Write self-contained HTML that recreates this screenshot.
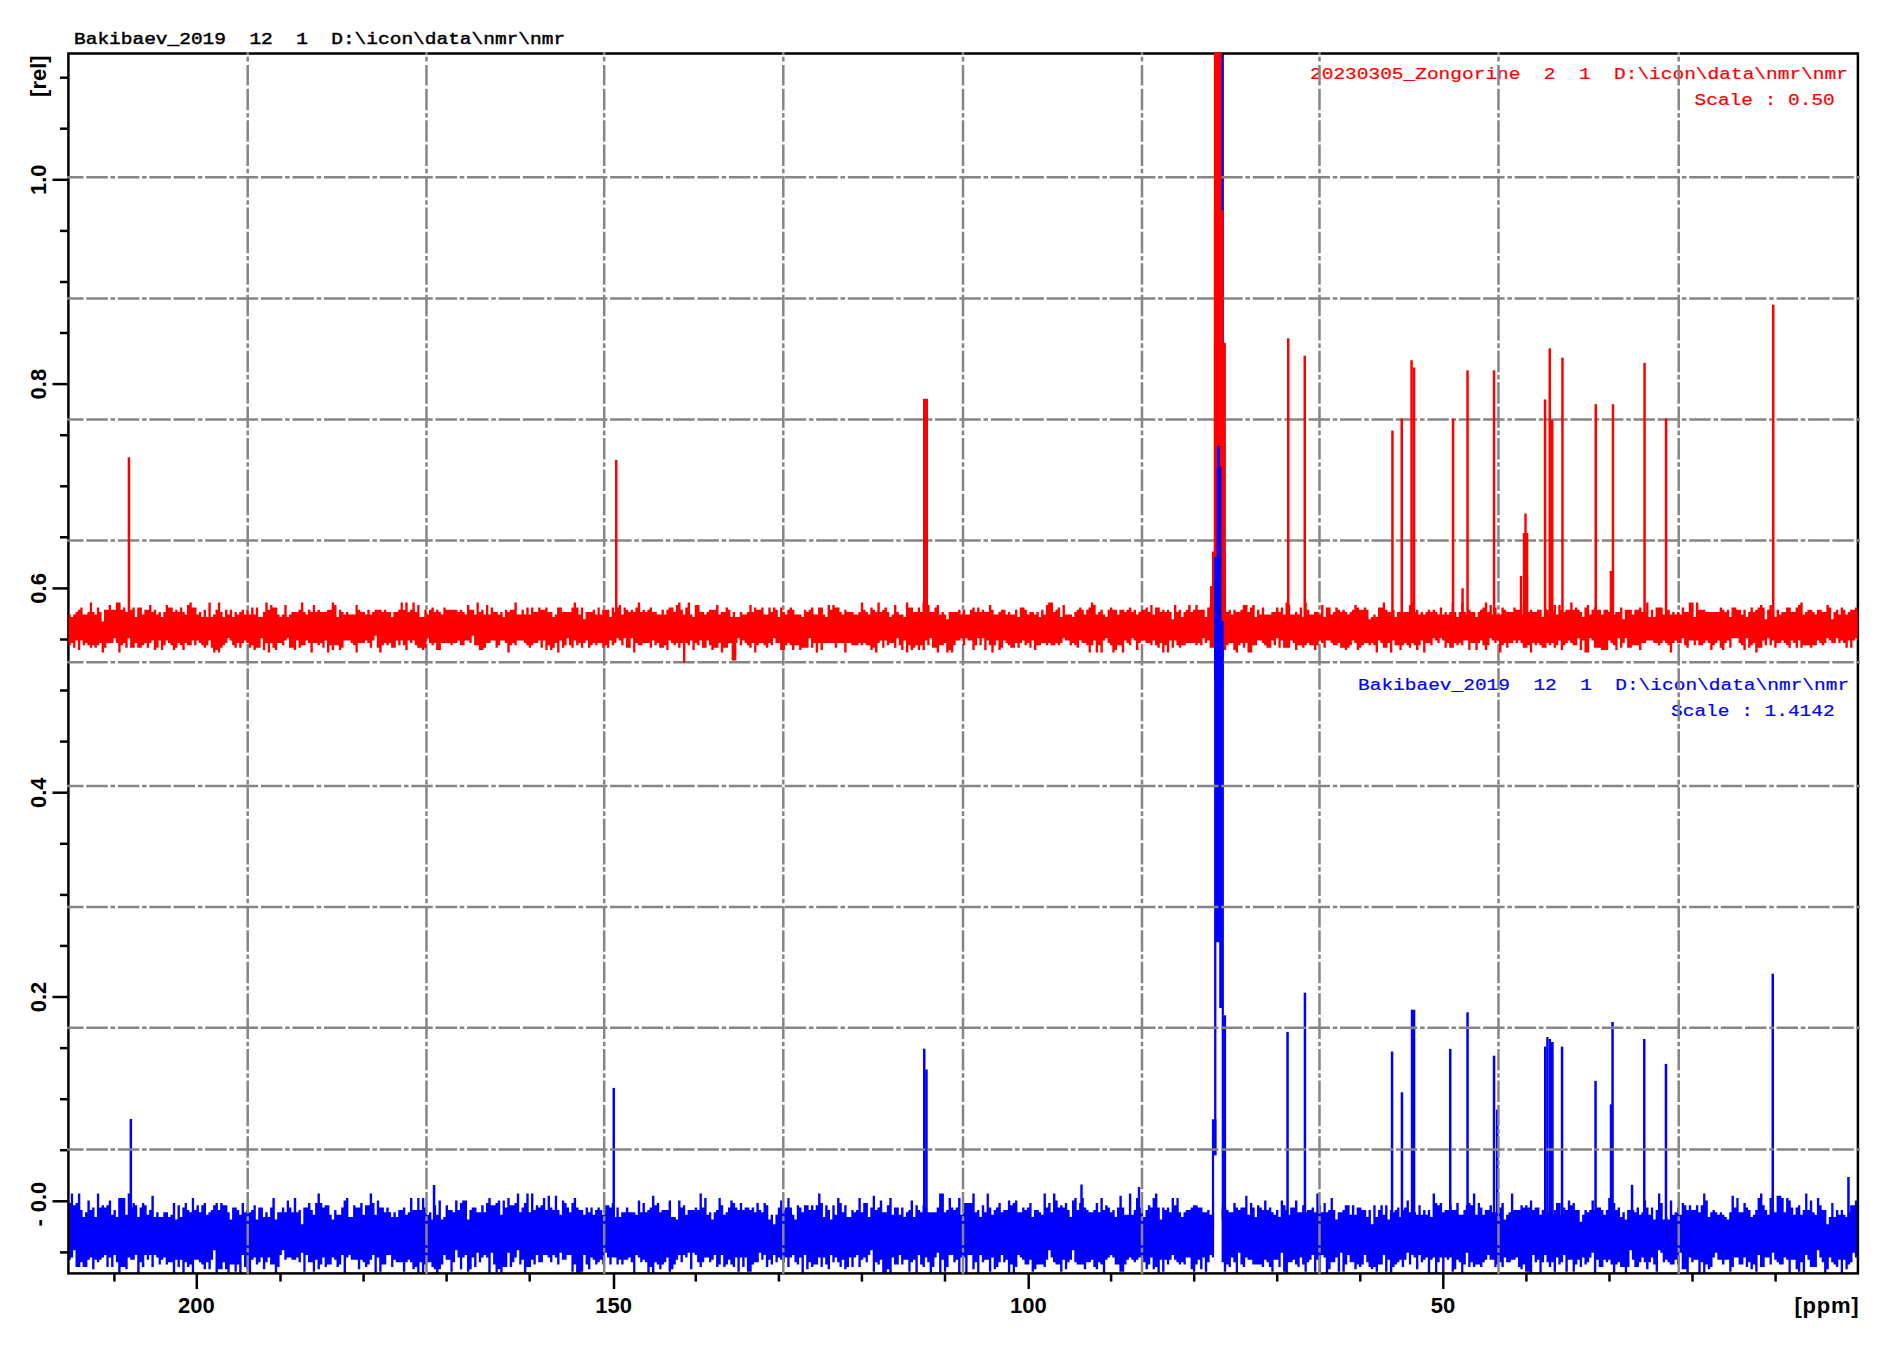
<!DOCTYPE html>
<html><head><meta charset="utf-8"><title>NMR spectrum</title>
<style>html,body{margin:0;padding:0;background:#fff;width:1898px;height:1354px;overflow:hidden}svg{display:block}</style>
</head><body>
<svg width="1898" height="1354" viewBox="0 0 1898 1354"><defs><clipPath id="pc"><rect x="68.4" y="53.5" width="1789.5" height="1219.9"/></clipPath></defs><g font-family="Liberation Mono" font-weight="normal" font-size="19.5" stroke-width="0.55"><text transform="translate(74 44.0) scale(1 0.86)" fill="#000" stroke="#000" xml:space="preserve">Bakibaev_2019  12  1  D:\icon\data\nmr\nmr</text><text transform="translate(1310 78.6) scale(1 0.86)" fill="#ff0000" stroke="#ff0000" stroke-width="0.25" xml:space="preserve">20230305_Zongorine  2  1  D:\icon\data\nmr\nmr</text><text transform="translate(1694.5 104.6) scale(1 0.86)" fill="#ff0000" stroke="#ff0000" stroke-width="0.25" xml:space="preserve">Scale : 0.50</text><text transform="translate(1358 689.6) scale(1 0.86)" fill="#0000ff" stroke="#0000ff" stroke-width="0.25" xml:space="preserve">Bakibaev_2019  12  1  D:\icon\data\nmr\nmr</text><text transform="translate(1671 716.1) scale(1 0.86)" fill="#0000ff" stroke="#0000ff" stroke-width="0.25" xml:space="preserve">Scale : 1.4142</text></g><g clip-path="url(#pc)" fill="#0000ff"><path d="M68.4 1202.9H70.8V1193.4H73.1V1205.2H75.5V1202.9H77.9V1193.4H80.3V1210H82.6V1217.1H85V1212.3H87.4V1200.5H89.8V1210H92.1V1207.6H94.5V1217.1H96.9V1193.4H99.2V1207.6H101.6V1205.2H104V1207.6H106.4V1205.2H108.7V1200.5H111.1V1214.7H113.5V1210H115.9V1217.1H118.2V1198.1H120.6V1198.1H123V1198.1H125.3V1214.7H127.7V1193.4H130.1V1207.6H132.5V1202.9H134.8V1205.2H137.2V1217.1H139.6V1207.6H141.9V1202.9H144.3V1205.2H146.7V1214.7H149.1V1210H151.4V1195.7H153.8V1217.1H156.2V1212.3H158.6V1217.1H160.9V1217.1H163.3V1212.3H165.7V1212.3H168V1217.1H170.4V1214.7H172.8V1202.9H175.2V1219.5H177.5V1205.2H179.9V1217.1H182.3V1207.6H184.7V1202.9H187V1210H189.4V1212.3H191.8V1198.1H194.1V1210H196.5V1205.2H198.9V1212.3H201.3V1205.2H203.6V1202.9H206V1214.7H208.4V1212.3H210.8V1210H213.1V1205.2H215.5V1202.9H217.9V1210H220.2V1202.9H222.6V1205.2H225V1205.2H227.4V1212.3H229.7V1219.5H232.1V1207.6H234.5V1207.6H236.8V1210H239.2V1214.7H241.6V1202.9H244V1212.3H246.3V1210H248.7V1212.3H251.1V1210H253.5V1205.2H255.8V1219.5H258.2V1207.6H260.6V1207.6H262.9V1217.1H265.3V1212.3H267.7V1217.1H270.1V1207.6H272.4V1198.1H274.8V1219.5H277.2V1212.3H279.6V1212.3H281.9V1207.6H284.3V1212.3H286.7V1200.5H289V1207.6H291.4V1212.3H293.8V1198.1H296.2V1212.3H298.5V1210H300.9V1224.2H303.3V1207.6H305.6V1207.6H308V1202.9H310.4V1210H312.8V1214.7H315.1V1202.9H317.5V1193.4H319.9V1202.9H322.3V1207.6H324.6V1205.2H327V1205.2H329.4V1214.7H331.7V1219.5H334.1V1210H336.5V1214.7H338.9V1214.7H341.2V1207.6H343.6V1200.5H346V1198.1H348.4V1217.1H350.7V1217.1H353.1V1205.2H355.5V1207.6H357.8V1207.6H360.2V1202.9H362.6V1214.7H365V1205.2H367.3V1205.2H369.7V1193.4H372.1V1202.9H374.5V1214.7H376.8V1200.5H379.2V1207.6H381.6V1207.6H383.9V1212.3H386.3V1207.6H388.7V1212.3H391.1V1217.1H393.4V1212.3H395.8V1217.1H398.2V1210H400.6V1210H402.9V1207.6H405.3V1214.7H407.7V1212.3H410V1198.1H412.4V1210H414.8V1210H417.2V1198.1H419.5V1210H421.9V1198.1H424.3V1207.6H426.6V1214.7H429V1212.3H431.4V1219.5H433.8V1205.2H436.1V1214.7H438.5V1200.5H440.9V1219.5H443.3V1217.1H445.6V1205.2H448V1210H450.4V1210H452.7V1212.3H455.1V1200.5H457.5V1210H459.9V1202.9H462.2V1200.5H464.6V1200.5H467V1219.5H469.4V1210H471.7V1207.6H474.1V1207.6H476.5V1212.3H478.8V1212.3H481.2V1205.2H483.6V1212.3H486V1202.9H488.3V1198.1H490.7V1205.2H493.1V1205.2H495.5V1202.9H497.8V1200.5H500.2V1214.7H502.6V1200.5H504.9V1207.6H507.3V1198.1H509.7V1205.2H512.1V1205.2H514.4V1202.9H516.8V1193.4H519.2V1212.3H521.5V1207.6H523.9V1202.9H526.3V1193.4H528.7V1212.3H531V1193.4H533.4V1210H535.8V1205.2H538.2V1207.6H540.5V1205.2H542.9V1198.1H545.3V1210H547.6V1195.7H550V1207.6H552.4V1210H554.8V1195.7H557.1V1210H559.5V1214.7H561.9V1200.5H564.3V1202.9H566.6V1207.6H569V1212.3H571.4V1202.9H573.7V1198.1H576.1V1207.6H578.5V1210H580.9V1210H583.2V1214.7H585.6V1207.6H588V1212.3H590.4V1207.6H592.7V1214.7H595.1V1210H597.5V1207.6H599.8V1210H602.2V1214.7H604.6V1205.2H607V1205.2H609.3V1207.6H611.7V1202.9H614.1V1217.1H616.4V1207.6H618.8V1217.1H621.2V1212.3H623.6V1212.3H625.9V1207.6H628.3V1212.3H630.7V1212.3H633.1V1212.3H635.4V1214.7H637.8V1200.5H640.2V1212.3H642.5V1202.9H644.9V1212.3H647.3V1210H649.7V1207.6H652V1195.7H654.4V1205.2H656.8V1202.9H659.2V1212.3H661.5V1210H663.9V1210H666.3V1210H668.6V1200.5H671V1217.1H673.4V1217.1H675.8V1219.5H678.1V1200.5H680.5V1207.6H682.9V1205.2H685.2V1214.7H687.6V1210H690V1210H692.4V1210H694.7V1207.6H697.1V1210H699.5V1193.4H701.9V1207.6H704.2V1198.1H706.6V1214.7H709V1212.3H711.3V1219.5H713.7V1212.3H716.1V1210H718.5V1198.1H720.8V1205.2H723.2V1214.7H725.6V1212.3H728V1207.6H730.3V1200.5H732.7V1202.9H735.1V1207.6H737.4V1210H739.8V1202.9H742.2V1210H744.6V1207.6H746.9V1207.6H749.3V1210H751.7V1207.6H754.1V1212.3H756.4V1202.9H758.8V1210H761.2V1212.3H763.5V1202.9H765.9V1205.2H768.3V1219.5H770.7V1214.7H773V1224.2H775.4V1214.7H777.8V1207.6H780.1V1200.5H782.5V1210H784.9V1207.6H787.3V1198.1H789.6V1207.6H792V1214.7H794.4V1219.5H796.8V1205.2H799.1V1207.6H801.5V1212.3H803.9V1205.2H806.2V1205.2H808.6V1210H811V1205.2H813.4V1210H815.7V1205.2H818.1V1193.4H820.5V1202.9H822.9V1217.1H825.2V1205.2H827.6V1210H830V1219.5H832.3V1205.2H834.7V1214.7H837.1V1198.1H839.5V1202.9H841.8V1212.3H844.2V1205.2H846.6V1217.1H849V1217.1H851.3V1210H853.7V1212.3H856.1V1210H858.4V1198.1H860.8V1212.3H863.2V1202.9H865.6V1202.9H867.9V1217.1H870.3V1207.6H872.7V1195.7H875V1210H877.4V1207.6H879.8V1200.5H882.2V1212.3H884.5V1212.3H886.9V1205.2H889.3V1198.1H891.7V1214.7H894V1207.6H896.4V1207.6H898.8V1214.7H901.1V1207.6H903.5V1217.1H905.9V1212.3H908.3V1210H910.6V1200.5H913V1217.1H915.4V1205.2H917.8V1210H920.1V1212.3H922.5V1205.2H924.9V1207.6H927.2V1212.3H929.6V1212.3H932V1212.3H934.4V1212.3H936.7V1207.6H939.1V1193.4H941.5V1193.4H943.9V1212.3H946.2V1210H948.6V1198.1H951V1207.6H953.3V1210H955.7V1207.6H958.1V1198.1H960.5V1214.7H962.8V1202.9H965.2V1202.9H967.6V1202.9H970V1202.9H972.3V1193.4H974.7V1212.3H977.1V1210H979.4V1217.1H981.8V1205.2H984.2V1212.3H986.6V1193.4H988.9V1207.6H991.3V1214.7H993.7V1210H996V1207.6H998.4V1202.9H1000.8V1212.3H1003.2V1210H1005.5V1210H1007.9V1200.5H1010.3V1205.2H1012.7V1202.9H1015V1200.5H1017.4V1212.3H1019.8V1212.3H1022.1V1207.6H1024.5V1210H1026.9V1207.6H1029.3V1202.9H1031.6V1217.1H1034V1210H1036.4V1210H1038.8V1212.3H1041.1V1214.7H1043.5V1193.4H1045.9V1207.6H1048.2V1202.9H1050.6V1212.3H1053V1193.4H1055.4V1200.5H1057.7V1207.6H1060.1V1205.2H1062.5V1207.6H1064.9V1202.9H1067.2V1210H1069.6V1217.1H1072V1200.5H1074.3V1198.1H1076.7V1210H1079.1V1202.9H1081.5V1198.1H1083.8V1207.6H1086.2V1210H1088.6V1212.3H1090.9V1212.3H1093.3V1210H1095.7V1202.9H1098.1V1212.3H1100.4V1198.1H1102.8V1210H1105.2V1205.2H1107.6V1207.6H1109.9V1212.3H1112.3V1210H1114.7V1217.1H1117V1207.6H1119.4V1195.7H1121.8V1207.6H1124.2V1214.7H1126.5V1214.7H1128.9V1193.4H1131.3V1214.7H1133.7V1210H1136V1198.1H1138.4V1207.6H1140.8V1207.6H1143.1V1217.1H1145.5V1210H1147.9V1205.2H1150.3V1207.6H1152.6V1198.1H1155V1193.4H1157.4V1207.6H1159.8V1219.5H1162.1V1207.6H1164.5V1210H1166.9V1207.6H1169.2V1212.3H1171.6V1198.1H1174V1205.2H1176.4V1198.1H1178.7V1212.3H1181.1V1217.1H1183.5V1212.3H1185.8V1210H1188.2V1210H1190.6V1207.6H1193V1205.2H1195.3V1205.2H1197.7V1207.6H1200.1V1207.6H1202.5V1212.3H1204.8V1212.3H1207.2V1210H1209.6V1214.7H1211.9V1212.3H1214.3V1198.1H1216.7V1212.3H1219.1V1205.2H1221.4V1210H1223.8V1207.6H1226.2V1210H1228.6V1212.3H1230.9V1212.3H1233.3V1202.9H1235.7V1207.6H1238V1210H1240.4V1207.6H1242.8V1207.6H1245.2V1195.7H1247.5V1214.7H1249.9V1202.9H1252.3V1207.6H1254.7V1217.1H1257V1205.2H1259.4V1207.6H1261.8V1210H1264.1V1200.5H1266.5V1210H1268.9V1207.6H1271.3V1212.3H1273.6V1214.7H1276V1210H1278.4V1217.1H1280.7V1200.5H1283.1V1205.2H1285.5V1210H1287.9V1214.7H1290.2V1207.6H1292.6V1207.6H1295V1200.5H1297.4V1212.3H1299.7V1212.3H1302.1V1205.2H1304.5V1212.3H1306.8V1210H1309.2V1210H1311.6V1207.6H1314V1212.3H1316.3V1193.4H1318.7V1205.2H1321.1V1212.3H1323.5V1202.9H1325.8V1212.3H1328.2V1210H1330.6V1198.1H1332.9V1210H1335.3V1219.5H1337.7V1212.3H1340.1V1212.3H1342.4V1210H1344.8V1205.2H1347.2V1205.2H1349.6V1214.7H1351.9V1205.2H1354.3V1214.7H1356.7V1207.6H1359V1207.6H1361.4V1210H1363.8V1210H1366.2V1217.1H1368.5V1210H1370.9V1224.2H1373.3V1205.2H1375.6V1217.1H1378V1210H1380.4V1205.2H1382.8V1214.7H1385.1V1205.2H1387.5V1219.5H1389.9V1210H1392.3V1212.3H1394.6V1210H1397V1207.6H1399.4V1217.1H1401.7V1210H1404.1V1207.6H1406.5V1200.5H1408.9V1212.3H1411.2V1210H1413.6V1212.3H1416V1214.7H1418.4V1205.2H1420.7V1214.7H1423.1V1210H1425.5V1214.7H1427.8V1210H1430.2V1217.1H1432.6V1193.4H1435V1202.9H1437.3V1205.2H1439.7V1202.9H1442.1V1212.3H1444.5V1210H1446.8V1210H1449.2V1205.2H1451.6V1210H1453.9V1210H1456.3V1202.9H1458.7V1214.7H1461.1V1214.7H1463.4V1210H1465.8V1205.2H1468.2V1202.9H1470.5V1205.2H1472.9V1193.4H1475.3V1214.7H1477.7V1202.9H1480V1207.6H1482.4V1214.7H1484.8V1210H1487.2V1210H1489.5V1205.2H1491.9V1212.3H1494.3V1212.3H1496.6V1219.5H1499V1207.6H1501.4V1202.9H1503.8V1219.5H1506.1V1214.7H1508.5V1212.3H1510.9V1193.4H1513.3V1210H1515.6V1210H1518V1210H1520.4V1205.2H1522.7V1207.6H1525.1V1205.2H1527.5V1207.6H1529.9V1200.5H1532.2V1210H1534.6V1207.6H1537V1207.6H1539.4V1214.7H1541.7V1210H1544.1V1217.1H1546.5V1212.3H1548.8V1202.9H1551.2V1214.7H1553.6V1210H1556V1202.9H1558.3V1202.9H1560.7V1214.7H1563.1V1207.6H1565.4V1210H1567.8V1200.5H1570.2V1205.2H1572.6V1202.9H1574.9V1210H1577.3V1210H1579.7V1221.8H1582.1V1214.7H1584.4V1210H1586.8V1212.3H1589.2V1210H1591.5V1200.5H1593.9V1210H1596.3V1207.6H1598.7V1207.6H1601V1210H1603.4V1214.7H1605.8V1210H1608.2V1198.1H1610.5V1205.2H1612.9V1202.9H1615.3V1210H1617.6V1207.6H1620V1217.1H1622.4V1212.3H1624.8V1219.5H1627.1V1210H1629.5V1210H1631.9V1210H1634.3V1212.3H1636.6V1207.6H1639V1214.7H1641.4V1212.3H1643.7V1200.5H1646.1V1207.6H1648.5V1214.7H1650.9V1207.6H1653.2V1219.5H1655.6V1210H1658V1193.4H1660.3V1202.9H1662.7V1219.5H1665.1V1217.1H1667.5V1219.5H1669.8V1200.5H1672.2V1214.7H1674.6V1212.3H1677V1207.6H1679.3V1214.7H1681.7V1202.9H1684.1V1205.2H1686.4V1210H1688.8V1205.2H1691.2V1210H1693.6V1210H1695.9V1205.2H1698.3V1212.3H1700.7V1205.2H1703.1V1193.4H1705.4V1200.5H1707.8V1217.1H1710.2V1212.3H1712.5V1210H1714.9V1212.3H1717.3V1214.7H1719.7V1212.3H1722V1214.7H1724.4V1217.1H1726.8V1219.5H1729.2V1212.3H1731.5V1195.7H1733.9V1207.6H1736.3V1198.1H1738.6V1212.3H1741V1212.3H1743.4V1202.9H1745.8V1207.6H1748.1V1210H1750.5V1217.1H1752.9V1214.7H1755.2V1210H1757.6V1198.1H1760V1193.4H1762.4V1205.2H1764.7V1210H1767.1V1214.7H1769.5V1198.1H1771.9V1210H1774.2V1212.3H1776.6V1195.7H1779V1195.7H1781.3V1198.1H1783.7V1212.3H1786.1V1198.1H1788.5V1200.5H1790.8V1207.6H1793.2V1214.7H1795.6V1207.6H1798V1205.2H1800.3V1214.7H1802.7V1210H1805.1V1193.4H1807.4V1210H1809.8V1200.5H1812.2V1212.3H1814.6V1214.7H1816.9V1198.1H1819.3V1205.2H1821.7V1210H1824.1V1210H1826.4V1224.2H1828.8V1217.1H1831.2V1202.9H1833.5V1217.1H1835.9V1210H1838.3V1214.7H1840.7V1210H1843V1214.7H1845.4V1217.1H1847.8V1212.3H1850.1V1205.2H1852.5V1205.2H1854.9V1200.5H1857.3V1202.9H1857.9V1262.2H1857.3V1257.4H1854.9V1252.7H1852.5V1262.2H1850.1V1264.5H1847.8V1269.3H1845.4V1259.8H1843V1274H1840.7V1259.8H1838.3V1266.9H1835.9V1264.5H1833.5V1262.2H1831.2V1257.4H1828.8V1269.3H1826.4V1276.4H1824.1V1262.2H1821.7V1257.4H1819.3V1250.3H1816.9V1266.9H1814.6V1266.9H1812.2V1266.9H1809.8V1259.8H1807.4V1255.1H1805.1V1276.4H1802.7V1262.2H1800.3V1271.7H1798V1269.3H1795.6V1259.8H1793.2V1259.8H1790.8V1276.4H1788.5V1259.8H1786.1V1257.4H1783.7V1264.5H1781.3V1264.5H1779V1262.2H1776.6V1259.8H1774.2V1252.7H1771.9V1264.5H1769.5V1257.4H1767.1V1257.4H1764.7V1266.9H1762.4V1266.9H1760V1255.1H1757.6V1271.7H1755.2V1264.5H1752.9V1269.3H1750.5V1262.2H1748.1V1266.9H1745.8V1257.4H1743.4V1264.5H1741V1264.5H1738.6V1257.4H1736.3V1257.4H1733.9V1266.9H1731.5V1271.7H1729.2V1259.8H1726.8V1259.8H1724.4V1264.5H1722V1259.8H1719.7V1259.8H1717.3V1252.7H1714.9V1257.4H1712.5V1266.9H1710.2V1269.3H1707.8V1264.5H1705.4V1276.4H1703.1V1262.2H1700.7V1276.4H1698.3V1259.8H1695.9V1259.8H1693.6V1262.2H1691.2V1257.4H1688.8V1276.4H1686.4V1269.3H1684.1V1269.3H1681.7V1252.7H1679.3V1264.5H1677V1259.8H1674.6V1264.5H1672.2V1264.5H1669.8V1262.2H1667.5V1259.8H1665.1V1262.2H1662.7V1252.7H1660.3V1250.3H1658V1271.7H1655.6V1264.5H1653.2V1257.4H1650.9V1262.2H1648.5V1269.3H1646.1V1262.2H1643.7V1257.4H1641.4V1262.2H1639V1266.9H1636.6V1266.9H1634.3V1259.8H1631.9V1250.3H1629.5V1266.9H1627.1V1276.4H1624.8V1266.9H1622.4V1266.9H1620V1262.2H1617.6V1264.5H1615.3V1274H1612.9V1264.5H1610.5V1259.8H1608.2V1262.2H1605.8V1259.8H1603.4V1266.9H1601V1266.9H1598.7V1259.8H1596.3V1276.4H1593.9V1252.7H1591.5V1257.4H1589.2V1262.2H1586.8V1264.5H1584.4V1257.4H1582.1V1266.9H1579.7V1259.8H1577.3V1264.5H1574.9V1271.7H1572.6V1259.8H1570.2V1259.8H1567.8V1271.7H1565.4V1255.1H1563.1V1262.2H1560.7V1264.5H1558.3V1257.4H1556V1271.7H1553.6V1262.2H1551.2V1266.9H1548.8V1262.2H1546.5V1255.1H1544.1V1262.2H1541.7V1276.4H1539.4V1259.8H1537V1262.2H1534.6V1255.1H1532.2V1274H1529.9V1271.7H1527.5V1271.7H1525.1V1264.5H1522.7V1269.3H1520.4V1266.9H1518V1257.4H1515.6V1259.8H1513.3V1259.8H1510.9V1262.2H1508.5V1262.2H1506.1V1257.4H1503.8V1266.9H1501.4V1262.2H1499V1264.5H1496.6V1266.9H1494.3V1259.8H1491.9V1259.8H1489.5V1255.1H1487.2V1259.8H1484.8V1262.2H1482.4V1266.9H1480V1264.5H1477.7V1264.5H1475.3V1266.9H1472.9V1262.2H1470.5V1266.9H1468.2V1252.7H1465.8V1264.5H1463.4V1276.4H1461.1V1262.2H1458.7V1259.8H1456.3V1269.3H1453.9V1271.7H1451.6V1257.4H1449.2V1259.8H1446.8V1257.4H1444.5V1274H1442.1V1257.4H1439.7V1262.2H1437.3V1276.4H1435V1257.4H1432.6V1259.8H1430.2V1274H1427.8V1257.4H1425.5V1259.8H1423.1V1262.2H1420.7V1255.1H1418.4V1269.3H1416V1257.4H1413.6V1255.1H1411.2V1264.5H1408.9V1252.7H1406.5V1259.8H1404.1V1266.9H1401.7V1259.8H1399.4V1262.2H1397V1264.5H1394.6V1266.9H1392.3V1276.4H1389.9V1259.8H1387.5V1271.7H1385.1V1255.1H1382.8V1264.5H1380.4V1264.5H1378V1271.7H1375.6V1266.9H1373.3V1269.3H1370.9V1266.9H1368.5V1262.2H1366.2V1255.1H1363.8V1264.5H1361.4V1266.9H1359V1264.5H1356.7V1269.3H1354.3V1262.2H1351.9V1262.2H1349.6V1255.1H1347.2V1264.5H1344.8V1271.7H1342.4V1252.7H1340.1V1271.7H1337.7V1257.4H1335.3V1262.2H1332.9V1262.2H1330.6V1269.3H1328.2V1276.4H1325.8V1257.4H1323.5V1255.1H1321.1V1271.7H1318.7V1259.8H1316.3V1271.7H1314V1255.1H1311.6V1259.8H1309.2V1262.2H1306.8V1271.7H1304.5V1264.5H1302.1V1257.4H1299.7V1266.9H1297.4V1264.5H1295V1259.8H1292.6V1262.2H1290.2V1262.2H1287.9V1274H1285.5V1271.7H1283.1V1252.7H1280.7V1266.9H1278.4V1259.8H1276V1259.8H1273.6V1271.7H1271.3V1266.9H1268.9V1262.2H1266.5V1259.8H1264.1V1266.9H1261.8V1264.5H1259.4V1264.5H1257V1264.5H1254.7V1264.5H1252.3V1259.8H1249.9V1259.8H1247.5V1257.4H1245.2V1266.9H1242.8V1264.5H1240.4V1252.7H1238V1274H1235.7V1262.2H1233.3V1257.4H1230.9V1266.9H1228.6V1264.5H1226.2V1271.7H1223.8V1262.2H1221.4V1264.5H1219.1V1259.8H1216.7V1266.9H1214.3V1257.4H1211.9V1255.1H1209.6V1262.2H1207.2V1271.7H1204.8V1257.4H1202.5V1269.3H1200.1V1259.8H1197.7V1264.5H1195.3V1271.7H1193V1269.3H1190.6V1257.4H1188.2V1257.4H1185.8V1264.5H1183.5V1262.2H1181.1V1264.5H1178.7V1262.2H1176.4V1259.8H1174V1255.1H1171.6V1259.8H1169.2V1264.5H1166.9V1259.8H1164.5V1271.7H1162.1V1259.8H1159.8V1274H1157.4V1266.9H1155V1269.3H1152.6V1257.4H1150.3V1264.5H1147.9V1269.3H1145.5V1262.2H1143.1V1257.4H1140.8V1257.4H1138.4V1259.8H1136V1262.2H1133.7V1259.8H1131.3V1257.4H1128.9V1259.8H1126.5V1264.5H1124.2V1271.7H1121.8V1271.7H1119.4V1264.5H1117V1264.5H1114.7V1257.4H1112.3V1255.1H1109.9V1257.4H1107.6V1259.8H1105.2V1276.4H1102.8V1264.5H1100.4V1262.2H1098.1V1269.3H1095.7V1266.9H1093.3V1259.8H1090.9V1262.2H1088.6V1262.2H1086.2V1269.3H1083.8V1264.5H1081.5V1264.5H1079.1V1264.5H1076.7V1262.2H1074.3V1250.3H1072V1259.8H1069.6V1262.2H1067.2V1269.3H1064.9V1259.8H1062.5V1271.7H1060.1V1264.5H1057.7V1264.5H1055.4V1262.2H1053V1257.4H1050.6V1250.3H1048.2V1259.8H1045.9V1266.9H1043.5V1264.5H1041.1V1264.5H1038.8V1264.5H1036.4V1269.3H1034V1271.7H1031.6V1259.8H1029.3V1264.5H1026.9V1264.5H1024.5V1259.8H1022.1V1257.4H1019.8V1255.1H1017.4V1266.9H1015V1276.4H1012.7V1264.5H1010.3V1274H1007.9V1259.8H1005.5V1262.2H1003.2V1255.1H1000.8V1262.2H998.4V1266.9H996V1269.3H993.7V1257.4H991.3V1271.7H988.9V1259.8H986.6V1259.8H984.2V1262.2H981.8V1255.1H979.4V1276.4H977.1V1262.2H974.7V1269.3H972.3V1255.1H970V1255.1H967.6V1276.4H965.2V1257.4H962.8V1257.4H960.5V1274H958.1V1259.8H955.7V1262.2H953.3V1255.1H951V1255.1H948.6V1266.9H946.2V1271.7H943.9V1259.8H941.5V1274H939.1V1252.7H936.7V1257.4H934.4V1266.9H932V1276.4H929.6V1262.2H927.2V1257.4H924.9V1266.9H922.5V1264.5H920.1V1255.1H917.8V1276.4H915.4V1259.8H913V1262.2H910.6V1271.7H908.3V1259.8H905.9V1259.8H903.5V1264.5H901.1V1255.1H898.8V1264.5H896.4V1264.5H894V1257.4H891.7V1274H889.3V1269.3H886.9V1274H884.5V1274H882.2V1259.8H879.8V1264.5H877.4V1262.2H875V1271.7H872.7V1250.3H870.3V1255.1H867.9V1262.2H865.6V1257.4H863.2V1259.8H860.8V1266.9H858.4V1255.1H856.1V1257.4H853.7V1266.9H851.3V1257.4H849V1266.9H846.6V1269.3H844.2V1259.8H841.8V1266.9H839.5V1262.2H837.1V1257.4H834.7V1262.2H832.3V1255.1H830V1269.3H827.6V1264.5H825.2V1257.4H822.9V1266.9H820.5V1257.4H818.1V1264.5H815.7V1264.5H813.4V1266.9H811V1262.2H808.6V1269.3H806.2V1255.1H803.9V1274H801.5V1257.4H799.1V1264.5H796.8V1262.2H794.4V1255.1H792V1257.4H789.6V1266.9H787.3V1257.4H784.9V1262.2H782.5V1259.8H780.1V1257.4H777.8V1262.2H775.4V1255.1H773V1264.5H770.7V1259.8H768.3V1266.9H765.9V1255.1H763.5V1259.8H761.2V1252.7H758.8V1262.2H756.4V1262.2H754.1V1264.5H751.7V1271.7H749.3V1271.7H746.9V1257.4H744.6V1266.9H742.2V1257.4H739.8V1271.7H737.4V1257.4H735.1V1266.9H732.7V1264.5H730.3V1259.8H728V1264.5H725.6V1266.9H723.2V1255.1H720.8V1264.5H718.5V1266.9H716.1V1255.1H713.7V1259.8H711.3V1262.2H709V1257.4H706.6V1257.4H704.2V1262.2H701.9V1266.9H699.5V1262.2H697.1V1255.1H694.7V1252.7H692.4V1269.3H690V1252.7H687.6V1257.4H685.2V1255.1H682.9V1262.2H680.5V1255.1H678.1V1259.8H675.8V1264.5H673.4V1269.3H671V1271.7H668.6V1257.4H666.3V1262.2H663.9V1264.5H661.5V1269.3H659.2V1264.5H656.8V1262.2H654.4V1276.4H652V1266.9H649.7V1276.4H647.3V1262.2H644.9V1259.8H642.5V1262.2H640.2V1257.4H637.8V1255.1H635.4V1276.4H633.1V1262.2H630.7V1257.4H628.3V1259.8H625.9V1259.8H623.6V1264.5H621.2V1259.8H618.8V1264.5H616.4V1257.4H614.1V1257.4H611.7V1264.5H609.3V1257.4H607V1252.7H604.6V1264.5H602.2V1259.8H599.8V1262.2H597.5V1264.5H595.1V1259.8H592.7V1257.4H590.4V1269.3H588V1264.5H585.6V1255.1H583.2V1271.7H580.9V1276.4H578.5V1274H576.1V1264.5H573.7V1271.7H571.4V1255.1H569V1255.1H566.6V1259.8H564.3V1259.8H561.9V1252.7H559.5V1264.5H557.1V1257.4H554.8V1255.1H552.4V1262.2H550V1257.4H547.6V1255.1H545.3V1255.1H542.9V1262.2H540.5V1262.2H538.2V1255.1H535.8V1264.5H533.4V1259.8H531V1266.9H528.7V1266.9H526.3V1276.4H523.9V1259.8H521.5V1264.5H519.2V1250.3H516.8V1257.4H514.4V1262.2H512.1V1266.9H509.7V1252.7H507.3V1266.9H504.9V1266.9H502.6V1274H500.2V1269.3H497.8V1276.4H495.5V1264.5H493.1V1252.7H490.7V1276.4H488.3V1257.4H486V1255.1H483.6V1257.4H481.2V1262.2H478.8V1252.7H476.5V1266.9H474.1V1257.4H471.7V1269.3H469.4V1271.7H467V1255.1H464.6V1257.4H462.2V1269.3H459.9V1257.4H457.5V1250.3H455.1V1262.2H452.7V1271.7H450.4V1259.8H448V1259.8H445.6V1255.1H443.3V1264.5H440.9V1269.3H438.5V1276.4H436.1V1269.3H433.8V1266.9H431.4V1262.2H429V1262.2H426.6V1264.5H424.3V1276.4H421.9V1262.2H419.5V1274H417.2V1266.9H414.8V1269.3H412.4V1262.2H410V1259.8H407.7V1262.2H405.3V1271.7H402.9V1262.2H400.6V1262.2H398.2V1262.2H395.8V1259.8H393.4V1266.9H391.1V1255.1H388.7V1255.1H386.3V1264.5H383.9V1264.5H381.6V1271.7H379.2V1257.4H376.8V1276.4H374.5V1255.1H372.1V1259.8H369.7V1264.5H367.3V1266.9H365V1262.2H362.6V1259.8H360.2V1269.3H357.8V1259.8H355.5V1259.8H353.1V1259.8H350.7V1255.1H348.4V1257.4H346V1276.4H343.6V1255.1H341.2V1264.5H338.9V1266.9H336.5V1259.8H334.1V1257.4H331.7V1264.5H329.4V1264.5H327V1266.9H324.6V1257.4H322.3V1264.5H319.9V1269.3H317.5V1259.8H315.1V1271.7H312.8V1262.2H310.4V1262.2H308V1255.1H305.6V1271.7H303.3V1252.7H300.9V1262.2H298.5V1257.4H296.2V1259.8H293.8V1259.8H291.4V1257.4H289V1257.4H286.7V1259.8H284.3V1250.3H281.9V1255.1H279.6V1266.9H277.2V1276.4H274.8V1264.5H272.4V1264.5H270.1V1257.4H267.7V1262.2H265.3V1269.3H262.9V1257.4H260.6V1262.2H258.2V1264.5H255.8V1257.4H253.5V1259.8H251.1V1274H248.7V1269.3H246.3V1266.9H244V1255.1H241.6V1276.4H239.2V1264.5H236.8V1271.7H234.5V1264.5H232.1V1264.5H229.7V1274H227.4V1269.3H225V1262.2H222.6V1269.3H220.2V1269.3H217.9V1274H215.5V1250.3H213.1V1259.8H210.8V1269.3H208.4V1262.2H206V1269.3H203.6V1264.5H201.3V1262.2H198.9V1259.8H196.5V1259.8H194.1V1276.4H191.8V1264.5H189.4V1266.9H187V1262.2H184.7V1274H182.3V1259.8H179.9V1266.9H177.5V1259.8H175.2V1276.4H172.8V1262.2H170.4V1262.2H168V1264.5H165.7V1257.4H163.3V1259.8H160.9V1264.5H158.6V1257.4H156.2V1255.1H153.8V1266.9H151.4V1255.1H149.1V1259.8H146.7V1255.1H144.3V1266.9H141.9V1262.2H139.6V1276.4H137.2V1255.1H134.8V1259.8H132.5V1259.8H130.1V1257.4H127.7V1269.3H125.3V1266.9H123V1266.9H120.6V1274H118.2V1262.2H115.9V1255.1H113.5V1266.9H111.1V1257.4H108.7V1266.9H106.4V1255.1H104V1257.4H101.6V1259.8H99.2V1262.2H96.9V1259.8H94.5V1269.3H92.1V1257.4H89.8V1259.8H87.4V1266.9H85V1266.9H82.6V1262.2H80.3V1266.9H77.9V1266.9H75.5V1250.3H73.1V1257.4H70.8V1259.8H68.4Z"/><rect x="129.6" y="1119" width="2.5" height="116.8"/><rect x="432.8" y="1185" width="2.5" height="50.8"/><rect x="612.5" y="1087.9" width="2.5" height="147.9"/><rect x="923" y="1048.7" width="2.5" height="187.1"/><rect x="925.2" y="1069.5" width="2.5" height="166.3"/><rect x="1286.3" y="1031.9" width="2.5" height="203.9"/><rect x="1303.7" y="992.7" width="2.5" height="243.1"/><rect x="1390.8" y="1051.5" width="2.5" height="184.3"/><rect x="1400.7" y="1092.3" width="2.5" height="143.5"/><rect x="1410.8" y="1009.7" width="4.5" height="226.1"/><rect x="1449" y="1048.9" width="2.5" height="186.9"/><rect x="1466.3" y="1012.3" width="2.5" height="223.5"/><rect x="1492.8" y="1055.7" width="2.5" height="180.1"/><rect x="1496" y="1109.6" width="2.5" height="126.2"/><rect x="1544" y="1046.6" width="2.4" height="189.2"/><rect x="1546.2" y="1037" width="2.3" height="198.8"/><rect x="1548.5" y="1039" width="2.5" height="196.8"/><rect x="1551" y="1042" width="2.7" height="193.8"/><rect x="1560.8" y="1046.6" width="2.5" height="189.2"/><rect x="1594.3" y="1080.9" width="2.5" height="154.9"/><rect x="1609.8" y="1104.4" width="2.5" height="131.4"/><rect x="1611.3" y="1022" width="2.5" height="213.8"/><rect x="1630.8" y="1184.8" width="2.5" height="51"/><rect x="1080.3" y="1184.5" width="2.4" height="51.3"/><rect x="1137.8" y="1187" width="2.4" height="48.8"/><rect x="1643" y="1039" width="2.5" height="196.8"/><rect x="1664.7" y="1063.9" width="2.5" height="171.9"/><rect x="1771.5" y="973.7" width="2.5" height="262.1"/><rect x="1847.2" y="1177" width="2.5" height="58.8"/><rect x="1216.4" y="942" width="5.3" height="214" fill="#fff"/><rect x="1214.1" y="1155" width="7.5" height="119" fill="#fff"/><rect x="1214.1" y="54" width="9.8" height="888.2"/><rect x="1214.1" y="942" width="2.3" height="213.2"/><rect x="1211.9" y="1119.3" width="4.5" height="35.9"/><rect x="1211.9" y="1155" width="2.2" height="73"/><rect x="1219.2" y="942" width="4.7" height="66"/><rect x="1221.7" y="1007.5" width="2.2" height="8"/><rect x="1221.7" y="1015.3" width="4.4" height="205.4"/></g><g stroke="#000" stroke-width="2.5" fill="none"><rect x="68.4" y="53.5" width="1789.5" height="1219.9"/><line x1="60" y1="77.7" x2="68.4" y2="77.7"/><line x1="60" y1="128.7" x2="68.4" y2="128.7"/><line x1="52.5" y1="179.8" x2="68.4" y2="179.8"/><line x1="60" y1="230.9" x2="68.4" y2="230.9"/><line x1="60" y1="282" x2="68.4" y2="282"/><line x1="60" y1="333" x2="68.4" y2="333"/><line x1="52.5" y1="384.1" x2="68.4" y2="384.1"/><line x1="60" y1="435.2" x2="68.4" y2="435.2"/><line x1="60" y1="486.3" x2="68.4" y2="486.3"/><line x1="60" y1="537.3" x2="68.4" y2="537.3"/><line x1="52.5" y1="588.4" x2="68.4" y2="588.4"/><line x1="60" y1="639.5" x2="68.4" y2="639.5"/><line x1="60" y1="690.5" x2="68.4" y2="690.5"/><line x1="60" y1="741.6" x2="68.4" y2="741.6"/><line x1="52.5" y1="792.7" x2="68.4" y2="792.7"/><line x1="60" y1="843.8" x2="68.4" y2="843.8"/><line x1="60" y1="894.9" x2="68.4" y2="894.9"/><line x1="60" y1="945.9" x2="68.4" y2="945.9"/><line x1="52.5" y1="997" x2="68.4" y2="997"/><line x1="60" y1="1048.1" x2="68.4" y2="1048.1"/><line x1="60" y1="1099.2" x2="68.4" y2="1099.2"/><line x1="60" y1="1150.2" x2="68.4" y2="1150.2"/><line x1="52.5" y1="1201.3" x2="68.4" y2="1201.3"/><line x1="60" y1="1252.4" x2="68.4" y2="1252.4"/><line x1="114.4" y1="1273.4" x2="114.4" y2="1281.6"/><line x1="196.8" y1="1273.4" x2="196.8" y2="1289"/><line x1="280.5" y1="1273.4" x2="280.5" y2="1281.6"/><line x1="363.6" y1="1273.4" x2="363.6" y2="1281.6"/><line x1="446.6" y1="1273.4" x2="446.6" y2="1281.6"/><line x1="529.7" y1="1273.4" x2="529.7" y2="1281.6"/><line x1="614" y1="1273.4" x2="614" y2="1289"/><line x1="695.8" y1="1273.4" x2="695.8" y2="1281.6"/><line x1="778.9" y1="1273.4" x2="778.9" y2="1281.6"/><line x1="861.9" y1="1273.4" x2="861.9" y2="1281.6"/><line x1="945" y1="1273.4" x2="945" y2="1281.6"/><line x1="1028.7" y1="1273.4" x2="1028.7" y2="1289"/><line x1="1111.1" y1="1273.4" x2="1111.1" y2="1281.6"/><line x1="1194.2" y1="1273.4" x2="1194.2" y2="1281.6"/><line x1="1277.2" y1="1273.4" x2="1277.2" y2="1281.6"/><line x1="1360.3" y1="1273.4" x2="1360.3" y2="1281.6"/><line x1="1443.3" y1="1273.4" x2="1443.3" y2="1289"/><line x1="1526.4" y1="1273.4" x2="1526.4" y2="1281.6"/><line x1="1609.5" y1="1273.4" x2="1609.5" y2="1281.6"/><line x1="1692.5" y1="1273.4" x2="1692.5" y2="1281.6"/><line x1="1775.6" y1="1273.4" x2="1775.6" y2="1281.6"/></g><g stroke="#858585" stroke-width="2.5" fill="none"><line x1="67" y1="177.2" x2="1860" y2="177.2" stroke-dasharray="21.5 2.72 4.6 2.72 21.5 2.72 4.6 2.72 21.5 2.72" stroke-dashoffset="68.01"/><line x1="67" y1="298.4" x2="1860" y2="298.4" stroke-dasharray="21.5 2.72 4.6 2.72 21.5 2.72 4.6 2.72 21.5 2.72" stroke-dashoffset="68.01"/><line x1="67" y1="419.4" x2="1860" y2="419.4" stroke-dasharray="21.5 2.72 4.6 2.72 21.5 2.72 4.6 2.72 21.5 2.72" stroke-dashoffset="68.01"/><line x1="67" y1="540.6" x2="1860" y2="540.6" stroke-dasharray="21.5 2.72 4.6 2.72 21.5 2.72 4.6 2.72 21.5 2.72" stroke-dashoffset="68.01"/><line x1="67" y1="662.2" x2="1860" y2="662.2" stroke-dasharray="21.5 2.72 4.6 2.72 21.5 2.72 4.6 2.72 21.5 2.72" stroke-dashoffset="68.01"/><line x1="67" y1="785.9" x2="1860" y2="785.9" stroke-dasharray="21.5 2.72 4.6 2.72 21.5 2.72 4.6 2.72 21.5 2.72" stroke-dashoffset="68.01"/><line x1="67" y1="906.9" x2="1860" y2="906.9" stroke-dasharray="21.5 2.72 4.6 2.72 21.5 2.72 4.6 2.72 21.5 2.72" stroke-dashoffset="68.01"/><line x1="67" y1="1027.7" x2="1860" y2="1027.7" stroke-dasharray="21.5 2.72 4.6 2.72 21.5 2.72 4.6 2.72 21.5 2.72" stroke-dashoffset="68.01"/><line x1="67" y1="1149.5" x2="1860" y2="1149.5" stroke-dasharray="21.5 2.72 4.6 2.72 21.5 2.72 4.6 2.72 21.5 2.72" stroke-dashoffset="68.01"/><line x1="247.7" y1="88.6" x2="247.7" y2="1274" stroke-dasharray="21.5 2.72 4.6 2.72 21.5 2.72 4.6 2.72 21.5 2.72" stroke-dashoffset="31.41"/><path d="M247.7 52V55M247.7 56.8V61.6M247.7 64.9V85.4"/><line x1="426.5" y1="88.6" x2="426.5" y2="1274" stroke-dasharray="21.5 2.72 4.6 2.72 21.5 2.72 4.6 2.72 21.5 2.72" stroke-dashoffset="31.41"/><path d="M426.5 52V55M426.5 56.8V61.6M426.5 64.9V85.4"/><line x1="604.2" y1="88.6" x2="604.2" y2="1274" stroke-dasharray="21.5 2.72 4.6 2.72 21.5 2.72 4.6 2.72 21.5 2.72" stroke-dashoffset="31.41"/><path d="M604.2 52V55M604.2 56.8V61.6M604.2 64.9V85.4"/><line x1="783.3" y1="88.6" x2="783.3" y2="1274" stroke-dasharray="21.5 2.72 4.6 2.72 21.5 2.72 4.6 2.72 21.5 2.72" stroke-dashoffset="31.41"/><path d="M783.3 52V55M783.3 56.8V61.6M783.3 64.9V85.4"/><line x1="963" y1="88.6" x2="963" y2="1274" stroke-dasharray="21.5 2.72 4.6 2.72 21.5 2.72 4.6 2.72 21.5 2.72" stroke-dashoffset="31.41"/><path d="M963 52V55M963 56.8V61.6M963 64.9V85.4"/><line x1="1142" y1="88.6" x2="1142" y2="1274" stroke-dasharray="21.5 2.72 4.6 2.72 21.5 2.72 4.6 2.72 21.5 2.72" stroke-dashoffset="31.41"/><path d="M1142 52V55M1142 56.8V61.6M1142 64.9V85.4"/><line x1="1319.5" y1="88.6" x2="1319.5" y2="1274" stroke-dasharray="21.5 2.72 4.6 2.72 21.5 2.72 4.6 2.72 21.5 2.72" stroke-dashoffset="31.41"/><path d="M1319.5 52V55M1319.5 56.8V61.6M1319.5 64.9V85.4"/><line x1="1498.5" y1="88.6" x2="1498.5" y2="1274" stroke-dasharray="21.5 2.72 4.6 2.72 21.5 2.72 4.6 2.72 21.5 2.72" stroke-dashoffset="31.41"/><path d="M1498.5 52V55M1498.5 56.8V61.6M1498.5 64.9V85.4"/><line x1="1678.7" y1="88.6" x2="1678.7" y2="1274" stroke-dasharray="21.5 2.72 4.6 2.72 21.5 2.72 4.6 2.72 21.5 2.72" stroke-dashoffset="31.41"/><path d="M1678.7 52V55M1678.7 56.8V61.6M1678.7 64.9V85.4"/></g><g clip-path="url(#pc)" fill="#ff0000"><path d="M68.4 614.5H70.8V616.9H73.1V614.5H75.5V612.1H77.9V609.7H80.3V607.4H82.6V614.5H85V614.5H87.4V612.1H89.8V602.6H92.1V612.1H94.5V614.5H96.9V607.4H99.2V612.1H101.6V621.6H104V609.7H106.4V609.7H108.7V605H111.1V609.7H113.5V609.7H115.9V602.6H118.2V602.6H120.6V609.7H123V607.4H125.3V612.1H127.7V612.1H130.1V609.7H132.5V607.4H134.8V616.9H137.2V607.4H139.6V607.4H141.9V614.5H144.3V609.7H146.7V609.7H149.1V605H151.4V612.1H153.8V609.7H156.2V614.5H158.6V612.1H160.9V616.9H163.3V612.1H165.7V605H168V607.4H170.4V607.4H172.8V612.1H175.2V609.7H177.5V612.1H179.9V607.4H182.3V612.1H184.7V614.5H187V605H189.4V602.6H191.8V607.4H194.1V607.4H196.5V614.5H198.9V612.1H201.3V616.9H203.6V609.7H206V616.9H208.4V602.6H210.8V616.9H213.1V614.5H215.5V609.7H217.9V602.6H220.2V612.1H222.6V616.9H225V609.7H227.4V614.5H229.7V609.7H232.1V616.9H234.5V612.1H236.8V614.5H239.2V612.1H241.6V609.7H244V614.5H246.3V609.7H248.7V614.5H251.1V607.4H253.5V614.5H255.8V607.4H258.2V616.9H260.6V616.9H262.9V612.1H265.3V602.6H267.7V609.7H270.1V605H272.4V607.4H274.8V607.4H277.2V614.5H279.6V616.9H281.9V614.5H284.3V605H286.7V616.9H289V614.5H291.4V612.1H293.8V612.1H296.2V612.1H298.5V609.7H300.9V602.6H303.3V612.1H305.6V614.5H308V609.7H310.4V612.1H312.8V605H315.1V612.1H317.5V609.7H319.9V612.1H322.3V612.1H324.6V612.1H327V609.7H329.4V609.7H331.7V602.6H334.1V605H336.5V616.9H338.9V609.7H341.2V612.1H343.6V614.5H346V612.1H348.4V614.5H350.7V614.5H353.1V614.5H355.5V605H357.8V609.7H360.2V612.1H362.6V612.1H365V614.5H367.3V609.7H369.7V614.5H372.1V612.1H374.5V609.7H376.8V609.7H379.2V609.7H381.6V612.1H383.9V609.7H386.3V612.1H388.7V612.1H391.1V616.9H393.4V612.1H395.8V612.1H398.2V609.7H400.6V602.6H402.9V609.7H405.3V602.6H407.7V612.1H410V609.7H412.4V602.6H414.8V612.1H417.2V605H419.5V616.9H421.9V616.9H424.3V609.7H426.6V614.5H429V609.7H431.4V607.4H433.8V612.1H436.1V609.7H438.5V612.1H440.9V614.5H443.3V607.4H445.6V609.7H448V609.7H450.4V609.7H452.7V609.7H455.1V609.7H457.5V612.1H459.9V609.7H462.2V612.1H464.6V614.5H467V605H469.4V609.7H471.7V609.7H474.1V614.5H476.5V602.6H478.8V612.1H481.2V609.7H483.6V614.5H486V605H488.3V614.5H490.7V607.4H493.1V612.1H495.5V612.1H497.8V614.5H500.2V612.1H502.6V616.9H504.9V609.7H507.3V612.1H509.7V609.7H512.1V609.7H514.4V602.6H516.8V614.5H519.2V614.5H521.5V609.7H523.9V614.5H526.3V607.4H528.7V614.5H531V607.4H533.4V612.1H535.8V612.1H538.2V607.4H540.5V609.7H542.9V609.7H545.3V607.4H547.6V612.1H550V612.1H552.4V616.9H554.8V614.5H557.1V607.4H559.5V607.4H561.9V612.1H564.3V612.1H566.6V612.1H569V612.1H571.4V607.4H573.7V602.6H576.1V607.4H578.5V614.5H580.9V607.4H583.2V619.2H585.6V612.1H588V612.1H590.4V612.1H592.7V609.7H595.1V614.5H597.5V607.4H599.8V614.5H602.2V609.7H604.6V609.7H607V609.7H609.3V616.9H611.7V607.4H614.1V612.1H616.4V607.4H618.8V605H621.2V614.5H623.6V607.4H625.9V609.7H628.3V612.1H630.7V609.7H633.1V612.1H635.4V607.4H637.8V602.6H640.2V612.1H642.5V609.7H644.9V612.1H647.3V609.7H649.7V607.4H652V612.1H654.4V612.1H656.8V614.5H659.2V614.5H661.5V609.7H663.9V614.5H666.3V609.7H668.6V607.4H671V607.4H673.4V612.1H675.8V605H678.1V602.6H680.5V609.7H682.9V614.5H685.2V607.4H687.6V602.6H690V614.5H692.4V616.9H694.7V605H697.1V605H699.5V612.1H701.9V612.1H704.2V614.5H706.6V612.1H709V609.7H711.3V609.7H713.7V609.7H716.1V605H718.5V614.5H720.8V612.1H723.2V612.1H725.6V607.4H728V609.7H730.3V616.9H732.7V612.1H735.1V616.9H737.4V616.9H739.8V612.1H742.2V614.5H744.6V614.5H746.9V612.1H749.3V605H751.7V612.1H754.1V607.4H756.4V609.7H758.8V609.7H761.2V607.4H763.5V614.5H765.9V614.5H768.3V607.4H770.7V612.1H773V607.4H775.4V609.7H777.8V616.9H780.1V607.4H782.5V612.1H784.9V614.5H787.3V609.7H789.6V607.4H792V609.7H794.4V614.5H796.8V614.5H799.1V614.5H801.5V616.9H803.9V609.7H806.2V612.1H808.6V609.7H811V607.4H813.4V614.5H815.7V614.5H818.1V607.4H820.5V607.4H822.9V614.5H825.2V616.9H827.6V605H830V609.7H832.3V605H834.7V607.4H837.1V607.4H839.5V612.1H841.8V614.5H844.2V609.7H846.6V612.1H849V612.1H851.3V612.1H853.7V614.5H856.1V614.5H858.4V612.1H860.8V602.6H863.2V609.7H865.6V612.1H867.9V614.5H870.3V607.4H872.7V609.7H875V612.1H877.4V602.6H879.8V612.1H882.2V609.7H884.5V607.4H886.9V612.1H889.3V616.9H891.7V614.5H894V605H896.4V612.1H898.8V614.5H901.1V614.5H903.5V616.9H905.9V602.6H908.3V607.4H910.6V607.4H913V612.1H915.4V612.1H917.8V607.4H920.1V612.1H922.5V602.6H924.9V614.5H927.2V605H929.6V612.1H932V612.1H934.4V607.4H936.7V605H939.1V614.5H941.5V612.1H943.9V614.5H946.2V619.2H948.6V612.1H951V612.1H953.3V612.1H955.7V612.1H958.1V609.7H960.5V614.5H962.8V609.7H965.2V614.5H967.6V614.5H970V609.7H972.3V607.4H974.7V612.1H977.1V607.4H979.4V612.1H981.8V609.7H984.2V612.1H986.6V612.1H988.9V605H991.3V609.7H993.7V614.5H996V614.5H998.4V612.1H1000.8V609.7H1003.2V609.7H1005.5V614.5H1007.9V612.1H1010.3V614.5H1012.7V614.5H1015V609.7H1017.4V616.9H1019.8V607.4H1022.1V607.4H1024.5V609.7H1026.9V614.5H1029.3V612.1H1031.6V612.1H1034V614.5H1036.4V612.1H1038.8V616.9H1041.1V609.7H1043.5V614.5H1045.9V605H1048.2V602.6H1050.6V602.6H1053V612.1H1055.4V609.7H1057.7V607.4H1060.1V616.9H1062.5V605H1064.9V614.5H1067.2V614.5H1069.6V614.5H1072V616.9H1074.3V612.1H1076.7V609.7H1079.1V607.4H1081.5V609.7H1083.8V614.5H1086.2V609.7H1088.6V607.4H1090.9V602.6H1093.3V605H1095.7V614.5H1098.1V612.1H1100.4V609.7H1102.8V614.5H1105.2V616.9H1107.6V609.7H1109.9V607.4H1112.3V609.7H1114.7V609.7H1117V614.5H1119.4V609.7H1121.8V609.7H1124.2V612.1H1126.5V609.7H1128.9V607.4H1131.3V612.1H1133.7V609.7H1136V614.5H1138.4V612.1H1140.8V609.7H1143.1V609.7H1145.5V607.4H1147.9V612.1H1150.3V605H1152.6V614.5H1155V607.4H1157.4V607.4H1159.8V612.1H1162.1V609.7H1164.5V612.1H1166.9V609.7H1169.2V612.1H1171.6V619.2H1174V605H1176.4V612.1H1178.7V609.7H1181.1V616.9H1183.5V612.1H1185.8V609.7H1188.2V605H1190.6V612.1H1193V609.7H1195.3V605H1197.7V609.7H1200.1V609.7H1202.5V609.7H1204.8V616.9H1207.2V607.4H1209.6V605H1211.9V612.1H1214.3V609.7H1216.7V614.5H1219.1V614.5H1221.4V612.1H1223.8V609.7H1226.2V612.1H1228.6V609.7H1230.9V614.5H1233.3V609.7H1235.7V612.1H1238V612.1H1240.4V609.7H1242.8V605H1245.2V605H1247.5V612.1H1249.9V607.4H1252.3V605H1254.7V616.9H1257V609.7H1259.4V614.5H1261.8V607.4H1264.1V614.5H1266.5V614.5H1268.9V614.5H1271.3V612.1H1273.6V612.1H1276V607.4H1278.4V612.1H1280.7V607.4H1283.1V614.5H1285.5V602.6H1287.9V605H1290.2V614.5H1292.6V614.5H1295V612.1H1297.4V614.5H1299.7V607.4H1302.1V616.9H1304.5V602.6H1306.8V609.7H1309.2V614.5H1311.6V614.5H1314V612.1H1316.3V612.1H1318.7V614.5H1321.1V605H1323.5V616.9H1325.8V607.4H1328.2V607.4H1330.6V614.5H1332.9V612.1H1335.3V607.4H1337.7V609.7H1340.1V612.1H1342.4V609.7H1344.8V612.1H1347.2V614.5H1349.6V612.1H1351.9V609.7H1354.3V605H1356.7V607.4H1359V609.7H1361.4V609.7H1363.8V607.4H1366.2V609.7H1368.5V619.2H1370.9V616.9H1373.3V614.5H1375.6V616.9H1378V607.4H1380.4V607.4H1382.8V602.6H1385.1V609.7H1387.5V612.1H1389.9V612.1H1392.3V609.7H1394.6V616.9H1397V612.1H1399.4V612.1H1401.7V612.1H1404.1V612.1H1406.5V612.1H1408.9V605H1411.2V602.6H1413.6V612.1H1416V609.7H1418.4V614.5H1420.7V612.1H1423.1V614.5H1425.5V612.1H1427.8V609.7H1430.2V612.1H1432.6V609.7H1435V612.1H1437.3V614.5H1439.7V607.4H1442.1V614.5H1444.5V612.1H1446.8V614.5H1449.2V612.1H1451.6V602.6H1453.9V612.1H1456.3V616.9H1458.7V612.1H1461.1V602.6H1463.4V612.1H1465.8V614.5H1468.2V609.7H1470.5V612.1H1472.9V612.1H1475.3V616.9H1477.7V612.1H1480V609.7H1482.4V607.4H1484.8V602.6H1487.2V612.1H1489.5V605H1491.9V614.5H1494.3V607.4H1496.6V614.5H1499V614.5H1501.4V607.4H1503.8V609.7H1506.1V612.1H1508.5V612.1H1510.9V612.1H1513.3V607.4H1515.6V609.7H1518V609.7H1520.4V614.5H1522.7V605H1525.1V614.5H1527.5V612.1H1529.9V609.7H1532.2V612.1H1534.6V612.1H1537V609.7H1539.4V609.7H1541.7V616.9H1544.1V607.4H1546.5V609.7H1548.8V614.5H1551.2V612.1H1553.6V605H1556V614.5H1558.3V605H1560.7V609.7H1563.1V612.1H1565.4V609.7H1567.8V609.7H1570.2V602.6H1572.6V609.7H1574.9V607.4H1577.3V609.7H1579.7V612.1H1582.1V616.9H1584.4V607.4H1586.8V605H1589.2V614.5H1591.5V609.7H1593.9V607.4H1596.3V609.7H1598.7V609.7H1601V614.5H1603.4V609.7H1605.8V609.7H1608.2V612.1H1610.5V607.4H1612.9V614.5H1615.3V612.1H1617.6V612.1H1620V607.4H1622.4V619.2H1624.8V609.7H1627.1V609.7H1629.5V609.7H1631.9V614.5H1634.3V609.7H1636.6V609.7H1639V607.4H1641.4V612.1H1643.7V612.1H1646.1V602.6H1648.5V616.9H1650.9V609.7H1653.2V616.9H1655.6V607.4H1658V607.4H1660.3V607.4H1662.7V614.5H1665.1V609.7H1667.5V609.7H1669.8V614.5H1672.2V612.1H1674.6V614.5H1677V612.1H1679.3V614.5H1681.7V607.4H1684.1V612.1H1686.4V612.1H1688.8V602.6H1691.2V602.6H1693.6V616.9H1695.9V602.6H1698.3V609.7H1700.7V609.7H1703.1V609.7H1705.4V612.1H1707.8V612.1H1710.2V612.1H1712.5V612.1H1714.9V612.1H1717.3V612.1H1719.7V607.4H1722V609.7H1724.4V612.1H1726.8V609.7H1729.2V616.9H1731.5V607.4H1733.9V607.4H1736.3V609.7H1738.6V609.7H1741V614.5H1743.4V609.7H1745.8V616.9H1748.1V612.1H1750.5V607.4H1752.9V612.1H1755.2V609.7H1757.6V607.4H1760V605H1762.4V607.4H1764.7V619.2H1767.1V609.7H1769.5V605H1771.9V612.1H1774.2V616.9H1776.6V609.7H1779V614.5H1781.3V612.1H1783.7V612.1H1786.1V607.4H1788.5V607.4H1790.8V612.1H1793.2V612.1H1795.6V607.4H1798V605H1800.3V602.6H1802.7V614.5H1805.1V612.1H1807.4V609.7H1809.8V609.7H1812.2V612.1H1814.6V614.5H1816.9V609.7H1819.3V609.7H1821.7V612.1H1824.1V612.1H1826.4V605H1828.8V607.4H1831.2V619.2H1833.5V612.1H1835.9V609.7H1838.3V614.5H1840.7V607.4H1843V609.7H1845.4V614.5H1847.8V612.1H1850.1V609.7H1852.5V609.7H1854.9V607.4H1857.3V609.7H1857.9V640.6H1857.3V638.2H1854.9V640.6H1852.5V647.7H1850.1V640.6H1847.8V647.7H1845.4V642.9H1843V640.6H1840.7V642.9H1838.3V638.2H1835.9V642.9H1833.5V642.9H1831.2V640.6H1828.8V638.2H1826.4V642.9H1824.1V645.3H1821.7V642.9H1819.3V640.6H1816.9V645.3H1814.6V645.3H1812.2V647.7H1809.8V645.3H1807.4V645.3H1805.1V645.3H1802.7V647.7H1800.3V640.6H1798V647.7H1795.6V642.9H1793.2V640.6H1790.8V647.7H1788.5V645.3H1786.1V642.9H1783.7V640.6H1781.3V642.9H1779V642.9H1776.6V647.7H1774.2V640.6H1771.9V645.3H1769.5V638.2H1767.1V645.3H1764.7V640.6H1762.4V647.7H1760V647.7H1757.6V652.4H1755.2V642.9H1752.9V645.3H1750.5V647.7H1748.1V638.2H1745.8V650.1H1743.4V645.3H1741V642.9H1738.6V638.2H1736.3V638.2H1733.9V638.2H1731.5V647.7H1729.2V640.6H1726.8V642.9H1724.4V650.1H1722V647.7H1719.7V640.6H1717.3V642.9H1714.9V645.3H1712.5V650.1H1710.2V642.9H1707.8V640.6H1705.4V642.9H1703.1V645.3H1700.7V645.3H1698.3V640.6H1695.9V645.3H1693.6V640.6H1691.2V640.6H1688.8V647.7H1686.4V645.3H1684.1V638.2H1681.7V642.9H1679.3V642.9H1677V640.6H1674.6V642.9H1672.2V652.4H1669.8V645.3H1667.5V642.9H1665.1V640.6H1662.7V642.9H1660.3V645.3H1658V642.9H1655.6V642.9H1653.2V640.6H1650.9V640.6H1648.5V640.6H1646.1V642.9H1643.7V642.9H1641.4V650.1H1639V645.3H1636.6V645.3H1634.3V645.3H1631.9V647.7H1629.5V647.7H1627.1V638.2H1624.8V642.9H1622.4V647.7H1620V638.2H1617.6V650.1H1615.3V645.3H1612.9V642.9H1610.5V640.6H1608.2V650.1H1605.8V650.1H1603.4V650.1H1601V647.7H1598.7V647.7H1596.3V647.7H1593.9V640.6H1591.5V638.2H1589.2V652.4H1586.8V652.4H1584.4V640.6H1582.1V650.1H1579.7V638.2H1577.3V645.3H1574.9V645.3H1572.6V642.9H1570.2V640.6H1567.8V642.9H1565.4V645.3H1563.1V650.1H1560.7V640.6H1558.3V645.3H1556V647.7H1553.6V642.9H1551.2V645.3H1548.8V642.9H1546.5V647.7H1544.1V647.7H1541.7V645.3H1539.4V642.9H1537V645.3H1534.6V642.9H1532.2V652.4H1529.9V645.3H1527.5V647.7H1525.1V647.7H1522.7V642.9H1520.4V640.6H1518V642.9H1515.6V640.6H1513.3V642.9H1510.9V642.9H1508.5V647.7H1506.1V642.9H1503.8V645.3H1501.4V652.4H1499V640.6H1496.6V642.9H1494.3V640.6H1491.9V638.2H1489.5V645.3H1487.2V650.1H1484.8V645.3H1482.4V640.6H1480V642.9H1477.7V650.1H1475.3V642.9H1472.9V642.9H1470.5V650.1H1468.2V640.6H1465.8V640.6H1463.4V645.3H1461.1V642.9H1458.7V645.3H1456.3V642.9H1453.9V647.7H1451.6V647.7H1449.2V642.9H1446.8V647.7H1444.5V640.6H1442.1V638.2H1439.7V642.9H1437.3V640.6H1435V638.2H1432.6V645.3H1430.2V642.9H1427.8V642.9H1425.5V652.4H1423.1V640.6H1420.7V645.3H1418.4V650.1H1416V645.3H1413.6V642.9H1411.2V647.7H1408.9V645.3H1406.5V642.9H1404.1V645.3H1401.7V650.1H1399.4V645.3H1397V645.3H1394.6V640.6H1392.3V652.4H1389.9V642.9H1387.5V647.7H1385.1V647.7H1382.8V642.9H1380.4V640.6H1378V652.4H1375.6V645.3H1373.3V642.9H1370.9V645.3H1368.5V642.9H1366.2V642.9H1363.8V645.3H1361.4V647.7H1359V650.1H1356.7V642.9H1354.3V640.6H1351.9V645.3H1349.6V647.7H1347.2V650.1H1344.8V647.7H1342.4V647.7H1340.1V642.9H1337.7V645.3H1335.3V645.3H1332.9V642.9H1330.6V640.6H1328.2V640.6H1325.8V647.7H1323.5V642.9H1321.1V640.6H1318.7V645.3H1316.3V650.1H1314V645.3H1311.6V645.3H1309.2V642.9H1306.8V645.3H1304.5V647.7H1302.1V645.3H1299.7V645.3H1297.4V650.1H1295V642.9H1292.6V640.6H1290.2V647.7H1287.9V647.7H1285.5V647.7H1283.1V640.6H1280.7V647.7H1278.4V638.2H1276V645.3H1273.6V640.6H1271.3V647.7H1268.9V647.7H1266.5V645.3H1264.1V642.9H1261.8V640.6H1259.4V640.6H1257V645.3H1254.7V645.3H1252.3V652.4H1249.9V652.4H1247.5V642.9H1245.2V647.7H1242.8V642.9H1240.4V645.3H1238V652.4H1235.7V650.1H1233.3V642.9H1230.9V642.9H1228.6V645.3H1226.2V650.1H1223.8V645.3H1221.4V650.1H1219.1V642.9H1216.7V642.9H1214.3V647.7H1211.9V647.7H1209.6V640.6H1207.2V642.9H1204.8V638.2H1202.5V645.3H1200.1V642.9H1197.7V645.3H1195.3V642.9H1193V642.9H1190.6V642.9H1188.2V642.9H1185.8V645.3H1183.5V645.3H1181.1V647.7H1178.7V645.3H1176.4V640.6H1174V647.7H1171.6V640.6H1169.2V652.4H1166.9V645.3H1164.5V652.4H1162.1V642.9H1159.8V647.7H1157.4V645.3H1155V640.6H1152.6V645.3H1150.3V642.9H1147.9V642.9H1145.5V640.6H1143.1V640.6H1140.8V642.9H1138.4V650.1H1136V640.6H1133.7V638.2H1131.3V645.3H1128.9V642.9H1126.5V640.6H1124.2V652.4H1121.8V645.3H1119.4V645.3H1117V650.1H1114.7V652.4H1112.3V645.3H1109.9V642.9H1107.6V638.2H1105.2V640.6H1102.8V652.4H1100.4V645.3H1098.1V652.4H1095.7V640.6H1093.3V645.3H1090.9V652.4H1088.6V645.3H1086.2V642.9H1083.8V642.9H1081.5V640.6H1079.1V647.7H1076.7V645.3H1074.3V642.9H1072V645.3H1069.6V640.6H1067.2V640.6H1064.9V638.2H1062.5V642.9H1060.1V645.3H1057.7V642.9H1055.4V645.3H1053V645.3H1050.6V642.9H1048.2V645.3H1045.9V642.9H1043.5V642.9H1041.1V645.3H1038.8V645.3H1036.4V650.1H1034V640.6H1031.6V647.7H1029.3V642.9H1026.9V645.3H1024.5V640.6H1022.1V642.9H1019.8V647.7H1017.4V642.9H1015V647.7H1012.7V647.7H1010.3V645.3H1007.9V642.9H1005.5V640.6H1003.2V647.7H1000.8V650.1H998.4V640.6H996V645.3H993.7V652.4H991.3V645.3H988.9V640.6H986.6V650.1H984.2V638.2H981.8V645.3H979.4V638.2H977.1V645.3H974.7V650.1H972.3V640.6H970V640.6H967.6V638.2H965.2V645.3H962.8V638.2H960.5V640.6H958.1V640.6H955.7V645.3H953.3V652.4H951V650.1H948.6V652.4H946.2V642.9H943.9V645.3H941.5V645.3H939.1V652.4H936.7V647.7H934.4V647.7H932V638.2H929.6V645.3H927.2V640.6H924.9V650.1H922.5V645.3H920.1V650.1H917.8V645.3H915.4V647.7H913V650.1H910.6V645.3H908.3V652.4H905.9V640.6H903.5V650.1H901.1V645.3H898.8V638.2H896.4V647.7H894V642.9H891.7V642.9H889.3V645.3H886.9V640.6H884.5V647.7H882.2V640.6H879.8V642.9H877.4V652.4H875V647.7H872.7V650.1H870.3V645.3H867.9V645.3H865.6V642.9H863.2V645.3H860.8V642.9H858.4V645.3H856.1V645.3H853.7V645.3H851.3V642.9H849V642.9H846.6V652.4H844.2V642.9H841.8V642.9H839.5V642.9H837.1V647.7H834.7V642.9H832.3V642.9H830V642.9H827.6V642.9H825.2V642.9H822.9V650.1H820.5V642.9H818.1V652.4H815.7V642.9H813.4V647.7H811V638.2H808.6V647.7H806.2V647.7H803.9V647.7H801.5V650.1H799.1V645.3H796.8V645.3H794.4V650.1H792V645.3H789.6V642.9H787.3V645.3H784.9V650.1H782.5V650.1H780.1V642.9H777.8V642.9H775.4V638.2H773V645.3H770.7V642.9H768.3V647.7H765.9V645.3H763.5V642.9H761.2V642.9H758.8V645.3H756.4V652.4H754.1V642.9H751.7V647.7H749.3V645.3H746.9V642.9H744.6V640.6H742.2V645.3H739.8V638.2H737.4V642.9H735.1V645.3H732.7V642.9H730.3V642.9H728V647.7H725.6V647.7H723.2V652.4H720.8V642.9H718.5V647.7H716.1V647.7H713.7V650.1H711.3V645.3H709V640.6H706.6V647.7H704.2V647.7H701.9V640.6H699.5V645.3H697.1V642.9H694.7V650.1H692.4V640.6H690V645.3H687.6V642.9H685.2V640.6H682.9V642.9H680.5V647.7H678.1V642.9H675.8V645.3H673.4V642.9H671V640.6H668.6V650.1H666.3V645.3H663.9V647.7H661.5V647.7H659.2V642.9H656.8V645.3H654.4V640.6H652V647.7H649.7V642.9H647.3V642.9H644.9V642.9H642.5V645.3H640.2V645.3H637.8V642.9H635.4V652.4H633.1V638.2H630.7V647.7H628.3V647.7H625.9V638.2H623.6V645.3H621.2V640.6H618.8V638.2H616.4V642.9H614.1V645.3H611.7V640.6H609.3V647.7H607V645.3H604.6V647.7H602.2V642.9H599.8V642.9H597.5V645.3H595.1V642.9H592.7V645.3H590.4V647.7H588V640.6H585.6V642.9H583.2V647.7H580.9V642.9H578.5V645.3H576.1V640.6H573.7V647.7H571.4V645.3H569V638.2H566.6V645.3H564.3V647.7H561.9V640.6H559.5V652.4H557.1V642.9H554.8V647.7H552.4V650.1H550V645.3H547.6V650.1H545.3V640.6H542.9V647.7H540.5V640.6H538.2V642.9H535.8V642.9H533.4V645.3H531V647.7H528.7V645.3H526.3V642.9H523.9V640.6H521.5V640.6H519.2V640.6H516.8V645.3H514.4V642.9H512.1V645.3H509.7V652.4H507.3V642.9H504.9V640.6H502.6V640.6H500.2V645.3H497.8V647.7H495.5V640.6H493.1V640.6H490.7V642.9H488.3V642.9H486V647.7H483.6V650.1H481.2V650.1H478.8V645.3H476.5V645.3H474.1V635.8H471.7V642.9H469.4V640.6H467V640.6H464.6V645.3H462.2V645.3H459.9V640.6H457.5V642.9H455.1V642.9H452.7V645.3H450.4V642.9H448V642.9H445.6V642.9H443.3V642.9H440.9V650.1H438.5V650.1H436.1V642.9H433.8V645.3H431.4V642.9H429V638.2H426.6V647.7H424.3V650.1H421.9V647.7H419.5V647.7H417.2V645.3H414.8V640.6H412.4V642.9H410V640.6H407.7V650.1H405.3V645.3H402.9V640.6H400.6V645.3H398.2V640.6H395.8V647.7H393.4V647.7H391.1V642.9H388.7V645.3H386.3V642.9H383.9V645.3H381.6V652.4H379.2V647.7H376.8V635.8H374.5V640.6H372.1V647.7H369.7V642.9H367.3V640.6H365V642.9H362.6V642.9H360.2V642.9H357.8V652.4H355.5V645.3H353.1V642.9H350.7V640.6H348.4V640.6H346V640.6H343.6V647.7H341.2V650.1H338.9V645.3H336.5V645.3H334.1V650.1H331.7V645.3H329.4V652.4H327V640.6H324.6V647.7H322.3V642.9H319.9V645.3H317.5V642.9H315.1V642.9H312.8V652.4H310.4V642.9H308V640.6H305.6V645.3H303.3V645.3H300.9V647.7H298.5V640.6H296.2V650.1H293.8V647.7H291.4V647.7H289V638.2H286.7V640.6H284.3V645.3H281.9V642.9H279.6V642.9H277.2V650.1H274.8V647.7H272.4V642.9H270.1V652.4H267.7V642.9H265.3V650.1H262.9V638.2H260.6V647.7H258.2V647.7H255.8V650.1H253.5V645.3H251.1V647.7H248.7V642.9H246.3V640.6H244V642.9H241.6V647.7H239.2V642.9H236.8V647.7H234.5V645.3H232.1V640.6H229.7V638.2H227.4V642.9H225V645.3H222.6V647.7H220.2V652.4H217.9V650.1H215.5V652.4H213.1V647.7H210.8V640.6H208.4V645.3H206V647.7H203.6V645.3H201.3V642.9H198.9V640.6H196.5V645.3H194.1V640.6H191.8V645.3H189.4V645.3H187V642.9H184.7V650.1H182.3V645.3H179.9V642.9H177.5V647.7H175.2V650.1H172.8V645.3H170.4V642.9H168V640.6H165.7V645.3H163.3V650.1H160.9V640.6H158.6V647.7H156.2V650.1H153.8V640.6H151.4V642.9H149.1V647.7H146.7V642.9H144.3V645.3H141.9V647.7H139.6V647.7H137.2V642.9H134.8V647.7H132.5V647.7H130.1V638.2H127.7V647.7H125.3V642.9H123V645.3H120.6V652.4H118.2V642.9H115.9V638.2H113.5V642.9H111.1V642.9H108.7V642.9H106.4V647.7H104V652.4H101.6V642.9H99.2V645.3H96.9V647.7H94.5V645.3H92.1V647.7H89.8V645.3H87.4V642.9H85V645.3H82.6V640.6H80.3V650.1H77.9V640.6H75.5V647.7H73.1V642.9H70.8V645.3H68.4Z"/><rect x="127.7" y="457.3" width="2.5" height="170.5"/><rect x="615" y="459.9" width="2.5" height="167.9"/><rect x="923" y="398.8" width="5" height="229"/><rect x="1287" y="338.3" width="2.5" height="289.5"/><rect x="1303.5" y="355.7" width="2.5" height="272.1"/><rect x="1391.2" y="430.6" width="2.5" height="197.2"/><rect x="1400.5" y="418.5" width="2.5" height="209.3"/><rect x="1410.3" y="360.2" width="2.5" height="267.6"/><rect x="1412.8" y="367.5" width="2.5" height="260.3"/><rect x="1451.8" y="418.7" width="2.5" height="209.1"/><rect x="1461.3" y="588.3" width="2.5" height="39.5"/><rect x="1466.3" y="370.3" width="2.5" height="257.5"/><rect x="1492.8" y="370.3" width="2.5" height="257.5"/><rect x="1519.8" y="576" width="2.4" height="51.8"/><rect x="1522.8" y="533" width="5.5" height="94.8"/><rect x="1524.3" y="513.5" width="2.4" height="114.3"/><rect x="1543.8" y="399.4" width="2.5" height="228.4"/><rect x="1548.5" y="348.4" width="2.5" height="279.4"/><rect x="1551" y="420" width="2.5" height="207.8"/><rect x="1561.2" y="357.7" width="2.5" height="270.1"/><rect x="1594.5" y="404.2" width="2.5" height="223.6"/><rect x="1609.7" y="571" width="2.5" height="56.8"/><rect x="1611.7" y="404.2" width="2.5" height="223.6"/><rect x="1643.3" y="362.8" width="2.5" height="265"/><rect x="1664.8" y="418.4" width="2.5" height="209.4"/><rect x="1772" y="304.7" width="2.5" height="323.1"/><rect x="683" y="630" width="2.4" height="32.7"/><rect x="731.6" y="630" width="4.8" height="30.5"/><rect x="1213.9" y="50" width="7.7" height="580"/><rect x="1213.9" y="210" width="9.7" height="420"/><rect x="1213.9" y="342.8" width="12" height="280"/><rect x="1212" y="551.5" width="13.6" height="70"/><rect x="1210" y="586" width="15.6" height="40"/></g><rect x="1213.9" y="52.3" width="7.7" height="4" fill="#ff0000"/><g fill="#0000ff"><rect x="1217" y="446" width="3" height="30"/><rect x="1216.6" y="467" width="4.8" height="100"/><rect x="1214" y="557" width="7.4" height="70"/><rect x="1214" y="621" width="9.6" height="60"/></g><g font-family="Liberation Sans" font-weight="bold" font-size="22" fill="#000" text-anchor="middle"><text transform="translate(45.8 76.1) rotate(-90)">[rel]</text><text transform="translate(45.8 179.8) rotate(-90)">1.0</text><text transform="translate(45.8 384.1) rotate(-90)">0.8</text><text transform="translate(45.8 588.4) rotate(-90)">0.6</text><text transform="translate(45.8 792.7) rotate(-90)">0.4</text><text transform="translate(45.8 997) rotate(-90)">0.2</text><text transform="translate(45.8 1197) rotate(-90)">0.0</text><text transform="translate(45.8 1222.8) rotate(-90)">-</text><text x="196.4" y="1313">200</text><text x="613.6" y="1313">150</text><text x="1028.3" y="1313">100</text><text x="1442.9" y="1313">50</text></g><text x="1794.6" y="1313" letter-spacing="0.7" font-family="Liberation Sans" font-weight="bold" font-size="22" fill="#000">[ppm]</text></svg>
</body></html>
